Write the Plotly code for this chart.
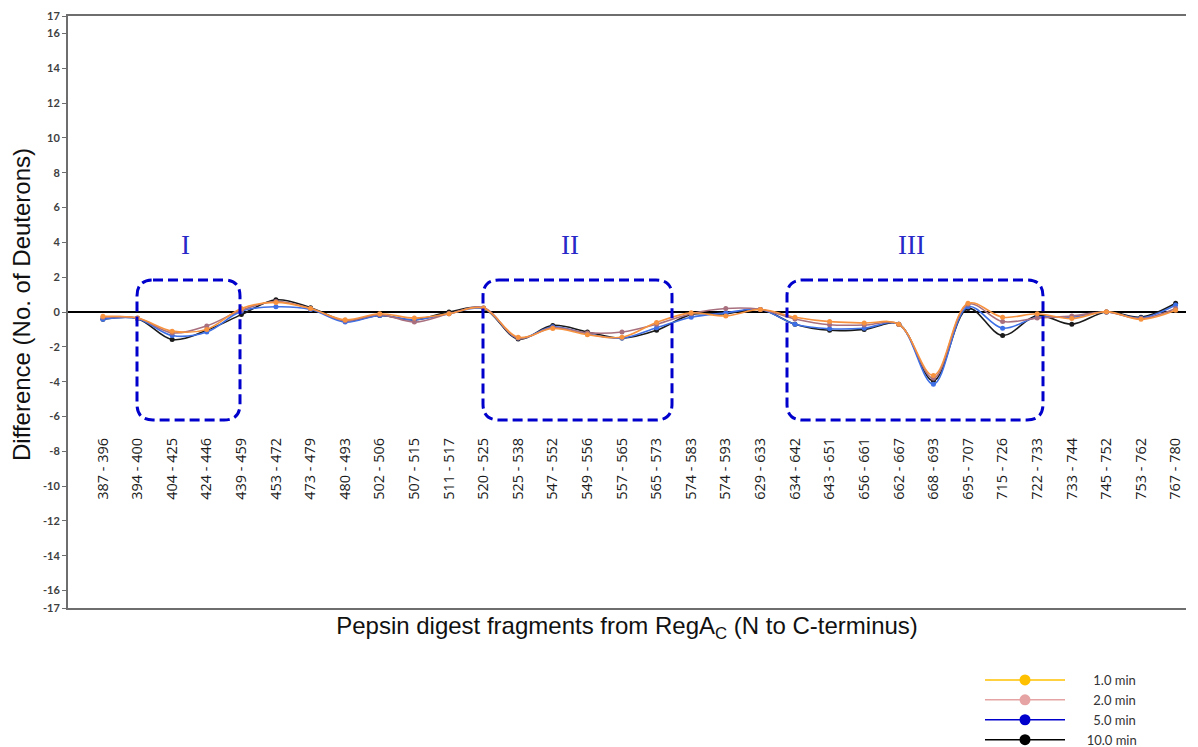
import plotly.graph_objects as go

fragments = ["387 - 396", "394 - 400", "404 - 425", "424 - 446", "439 - 459", "453 - 472",
             "473 - 479", "480 - 493", "502 - 506", "507 - 515", "511 - 517", "520 - 525",
             "525 - 538", "547 - 552", "549 - 556", "557 - 565", "565 - 573", "574 - 583",
             "574 - 593", "629 - 633", "634 - 642", "643 - 651", "656 - 661", "662 - 667",
             "668 - 693", "695 - 707", "715 - 726", "722 - 733", "733 - 744", "745 - 752",
             "753 - 762", "767 - 780"]

t1_0min = [-0.25, -0.35, -1.10, -1.00, 0.20, 0.55, 0.20, -0.45, -0.10, -0.35, -0.10, 0.22,
           -1.45, -0.95, -1.30, -1.45, -0.60, -0.05, -0.23, 0.15, -0.30, -0.55, -0.63, -0.70,
           -3.65, 0.50, -0.30, -0.10, -0.38, 0.02, -0.42, 0.10]
t2_0min = [-0.30, -0.35, -1.20, -0.80, 0.10, 0.60, 0.20, -0.50, -0.15, -0.58, -0.10, 0.25,
           -1.50, -0.90, -1.20, -1.15, -0.70, -0.10, 0.20, 0.15, -0.40, -0.73, -0.75, -0.70,
           -3.80, 0.45, -0.55, -0.35, -0.23, 0.00, -0.38, 0.20]
t5_0min = [-0.42, -0.38, -1.35, -1.15, 0.05, 0.30, 0.15, -0.58, -0.20, -0.45, -0.10, 0.20,
           -1.50, -0.85, -1.25, -1.50, -0.90, -0.30, -0.05, 0.15, -0.70, -0.96, -0.93, -0.70,
           -4.15, 0.30, -0.93, -0.30, -0.30, 0.00, -0.35, 0.40]
t10_0min = [-0.42, -0.38, -1.58, -1.05, -0.15, 0.70, 0.25, -0.50, -0.20, -0.45, 0.00, 0.20,
            -1.55, -0.77, -1.15, -1.50, -1.05, -0.15, -0.10, 0.15, -0.70, -1.05, -1.00, -0.70,
            -3.95, 0.20, -1.35, -0.20, -0.70, 0.00, -0.30, 0.50]

series_names = ["1.0 min", "2.0 min", "5.0 min", "10.0 min"]
series_values = [t1_0min, t2_0min, t5_0min, t10_0min]
plot_colors = ["#F7923F", "#A8707F", "#3D6FE6", "#1A1A1A"]
legend_colors = ["#FFC000", "#E6A3A3", "#0000CC", "#000000"]

y_ticks = [17, 16, 14, 12, 10, 8, 6, 4, 2, 0, -2, -4, -6, -8, -10, -12, -14, -16, -17]

regions = ["I", "II", "III"]
# region boxes in pixel coordinates (left, right, top, bottom) and label centres
region_boxes = [(137, 240, 280, 420), (483, 672, 280, 420), (787, 1043, 280, 420)]
region_label_x = [185, 570, 911]

W, H = 1198, 747
L, R, T, B = 68, 1186, 16, 608


def px(x):
    return (x - L) / (R - L)


def py(y):
    return (B - y) / (B - T)


fig = go.Figure()

# draw black first so orange ends up on top
for i in reversed(range(4)):
    fig.add_trace(go.Scatter(
        x=fragments, y=series_values[i], mode="lines+markers",
        line=dict(color=plot_colors[i], width=1.6, shape="spline", smoothing=1.0),
        marker=dict(color=plot_colors[i], size=5),
        showlegend=False, name=series_names[i], xaxis="x", yaxis="y"))

# invisible trace so the fragment-label axis is drawn
fig.add_trace(go.Scatter(x=fragments, y=[None] * len(fragments), xaxis="x2", yaxis="y",
                         mode="markers", showlegend=False, hoverinfo="skip",
                         marker=dict(opacity=0)))

legend_pad = ["\u00a0" * 7, "\u00a0" * 7, "\u00a0" * 7, "\u00a0" * 5]
for i in range(4):
    fig.add_trace(go.Scatter(
        x=[None], y=[None], mode="lines+markers", name=legend_pad[i] + series_names[i],
        line=dict(color=legend_colors[i], width=1.5),
        marker=dict(color=legend_colors[i], size=11),
        showlegend=True))

shapes = []
r = 16
for (x0, x1, y0, y1) in region_boxes:
    a, b = px(x0), px(x1)
    c, d = py(y0), py(y1)
    rx = r / (R - L)
    ry = r / (B - T)
    path = (f"M {a + rx},{c} L {b - rx},{c} Q {b},{c} {b},{c - ry} "
            f"L {b},{d + ry} Q {b},{d} {b - rx},{d} "
            f"L {a + rx},{d} Q {a},{d} {a},{d + ry} "
            f"L {a},{c - ry} Q {a},{c} {a + rx},{c} Z")
    shapes.append(dict(type="path", path=path, xref="paper", yref="paper",
                       line=dict(color="#0000CC", width=3, dash="10px,5px")))

annotations = []
for lab, lx in zip(regions, region_label_x):
    annotations.append(dict(text=lab, x=px(lx), y=py(245), xref="paper", yref="paper",
                            xanchor="center", showarrow=False,
                            font=dict(family="Liberation Serif", size=27, color="#2828C8")))

# y-axis title placed close to the left edge, as in the reference
annotations.append(dict(text="Difference (No. of Deuterons)", x=px(21), y=py(305),
                        xref="paper", yref="paper", textangle=-90, showarrow=False,
                        xanchor="center", yanchor="middle",
                        font=dict(family="Liberation Sans", size=24, color="#111111")))

fig.update_layout(
    width=W, height=H,
    margin=dict(l=L, r=W - R, t=T, b=H - B, autoexpand=False),
    paper_bgcolor="white", plot_bgcolor="white",
    shapes=shapes, annotations=annotations,
    xaxis=dict(type="category", categoryorder="array", categoryarray=fragments,
               range=[-1.01, 31.3], showticklabels=False, ticks="",
               showline=True, mirror=True, linecolor="#6E6E6E", linewidth=2,
               showgrid=False, zeroline=False,
               title=dict(text="Pepsin digest fragments from RegA<sub>C</sub> (N to C-terminus)",
                          font=dict(family="Liberation Sans", size=24, color="#111111"),
                          standoff=8)),
    xaxis2=dict(type="category", categoryorder="array", categoryarray=fragments,
                range=[-1.01, 31.3], overlaying="x", anchor="free", position=py(434),
                side="bottom", showline=False, ticks="", showgrid=False, zeroline=False,
                tickangle=-90, tickmode="array", tickvals=fragments, ticktext=fragments,
                tickfont=dict(family="Open Sans", size=14.5, color="#1A1A1A")),
    yaxis=dict(range=[-17, 17], tickmode="array", tickvals=y_ticks,
               ticktext=[str(v) for v in y_ticks],
               ticks="outside", ticklen=4, tickcolor="#6E6E6E", tickwidth=1,
               showline=True, linecolor="#6E6E6E", linewidth=2, showgrid=False,
               zeroline=True, zerolinecolor="#000000", zerolinewidth=1.5,
               tickfont=dict(family="Lato", size=11, color="#404040", weight="bold")),
    legend=dict(x=px(980), y=py(665), xanchor="left", yanchor="top",
                bgcolor="rgba(0,0,0,0)", itemwidth=80, tracegroupgap=0,
                font=dict(family="Lato", size=13, color="#333333")),
)

fig.write_html("out.html")
